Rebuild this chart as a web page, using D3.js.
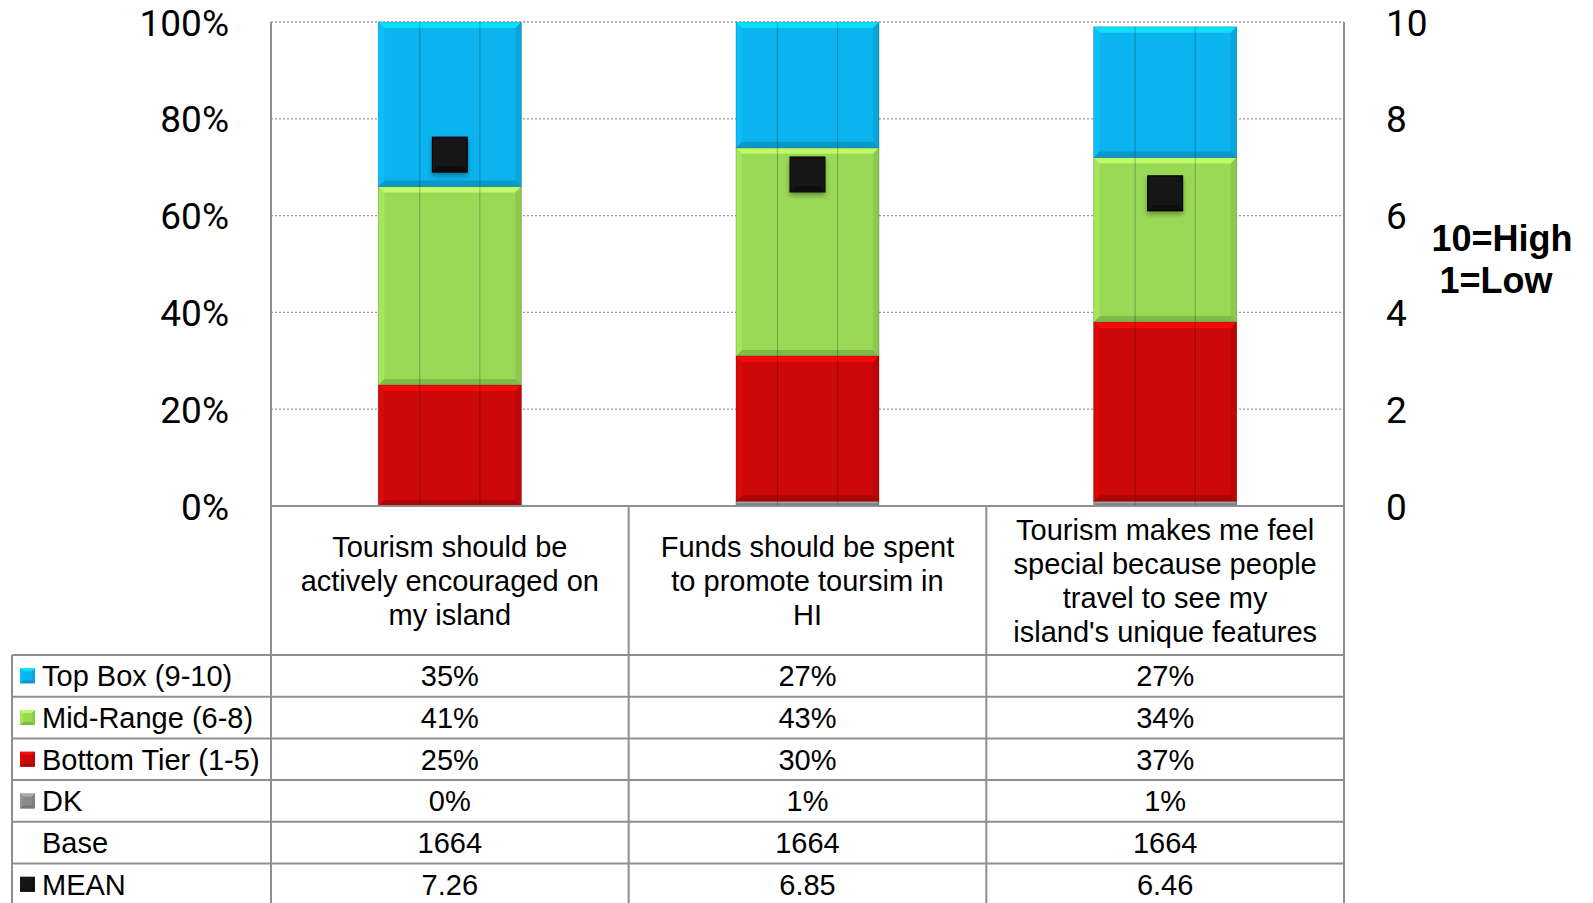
<!DOCTYPE html>
<html>
<head>
<meta charset="utf-8">
<script src="https://cdn.jsdelivr.net/npm/d3@7"></script>
<style>
  html, body { margin: 0; padding: 0; background: #fff; }
  svg { display: block; }
</style>
</head>
<body>
<svg id="chart" width="1593" height="903"></svg>
<script>
// ---------------- DATA ----------------
const categories = [
  "Tourism should be actively encouraged on my island",
  "Funds should be spent to promote toursim in HI",
  "Tourism makes me feel special because people travel to see my island's unique features"
];
const categoryLines = [
  ["Tourism should be", "actively encouraged on", "my island"],
  ["Funds should be spent", "to promote toursim in", "HI"],
  ["Tourism makes me feel", "special because people", "travel to see my", "island's unique features"]
];
const dkValues = [0, 1, 1];
const bottomTierValues = [25, 30, 37];
const midRangeValues = [41, 43, 34];
const topBoxValues = [35, 27, 27];
const baseValues = [1664, 1664, 1664];
const meanValues = [7.26, 6.85, 6.46];
const pctTicks = [0, 20, 40, 60, 80, 100];
const meanTicks = [0, 2, 4, 6, 8, 10];
const seriesNames = ["DK", "Bottom Tier (1-5)", "Mid-Range (6-8)", "Top Box (9-10)"];
const seriesColors = { "Top Box (9-10)": "#0BB4EE", "Mid-Range (6-8)": "#9AD956", "Bottom Tier (1-5)": "#CC0808", "DK": "#8A8A8A", "MEAN": "#141414" };
const tableRows = ["Top Box (9-10)", "Mid-Range (6-8)", "Bottom Tier (1-5)", "DK", "Base", "MEAN"];
const rightNote = ["10=High", "1=Low"];

// ---------------- LAYOUT ----------------
const svg = d3.select("#chart");
const plotLeft = 271, plotRight = 1344, plotTop = 22, plotBottom = 506;
const tableLeft = 12, tableTop = 655, rowH = 41.7;
const gridColor = "#8f8f8f";

const x = d3.scaleBand().domain(categories).range([plotLeft, plotRight]).padding(0);
const y = d3.scaleLinear().domain([0, 100]).range([plotBottom, plotTop]).clamp(true);
const y2 = d3.scaleLinear().domain([0, 10]).range([plotBottom, plotTop]);
const barW = x.bandwidth() * 0.4;

const defs = svg.append("defs");
const f = defs.append("filter").attr("id", "shadow").attr("x", "-30%").attr("y", "-30%").attr("width", "160%").attr("height", "170%");
f.append("feDropShadow").attr("dx", 0).attr("dy", 3).attr("stdDeviation", 2.5).attr("flood-color", "#000").attr("flood-opacity", 0.35);

// gridlines
svg.append("g").selectAll("line").data(pctTicks).join("line")
  .attr("x1", plotLeft).attr("x2", plotRight)
  .attr("y1", d => y(d)).attr("y2", d => y(d))
  .attr("stroke", "#9a9a9a").attr("stroke-width", 1.3).attr("stroke-dasharray", "2,2");

// plot borders
svg.append("line").attr("x1", plotLeft).attr("x2", plotLeft).attr("y1", plotTop).attr("y2", plotBottom).attr("stroke", gridColor).attr("stroke-width", 2);
svg.append("line").attr("x1", plotRight).attr("x2", plotRight).attr("y1", plotTop).attr("y2", plotBottom).attr("stroke", gridColor).attr("stroke-width", 2);

// bevelled rectangle helper
function bevelRect(g, x0, y0, w, h, color, bv) {
  const b = Math.min(bv, h / 3, w / 3);
  const c = d3.color(color);
  const g2 = g.append("g");
  g2.append("rect").attr("x", x0).attr("y", y0).attr("width", w).attr("height", h).attr("fill", color);
  if (b < 1) return g2;
  const light = c.brighter(0.7).formatHex();
  const lightS = c.brighter(0.25).formatHex();
  const dark = c.darker(0.6).formatHex();
  const darkS = c.darker(0.3).formatHex();
  const x1 = x0 + w, y1 = y0 + h;
  g2.append("polygon").attr("points", [[x0, y0], [x1, y0], [x1 - b, y0 + b], [x0 + b, y0 + b]].join(" ")).attr("fill", light).attr("opacity", 0.85);
  g2.append("polygon").attr("points", [[x0, y1], [x1, y1], [x1 - b, y1 - b], [x0 + b, y1 - b]].join(" ")).attr("fill", dark).attr("opacity", 0.8);
  g2.append("polygon").attr("points", [[x0, y0], [x0 + b, y0 + b], [x0 + b, y1 - b], [x0, y1]].join(" ")).attr("fill", lightS).attr("opacity", 0.7);
  g2.append("polygon").attr("points", [[x1, y0], [x1 - b, y0 + b], [x1 - b, y1 - b], [x1, y1]].join(" ")).attr("fill", darkS).attr("opacity", 0.8);
  return g2;
}

// stacked data
const rows = categories.map((c, i) => ({
  cat: c,
  "DK": dkValues[i],
  "Bottom Tier (1-5)": bottomTierValues[i],
  "Mid-Range (6-8)": midRangeValues[i],
  "Top Box (9-10)": topBoxValues[i]
}));
const stacked = d3.stack().keys(seriesNames)(rows);

const barsG = svg.append("g");
stacked.forEach(layer => {
  layer.forEach(seg => {
    const cat = seg.data.cat;
    const x0 = x(cat) + (x.bandwidth() - barW) / 2;
    const yTop = y(seg[1]), yBot = y(seg[0]);
    const h = yBot - yTop;
    if (h <= 0.1) return;
    const g = barsG.append("g");
    bevelRect(g, x0, yTop, barW, h, seriesColors[layer.key], 6);
    [0.29, 0.71].forEach(p => {
      g.append("line").attr("x1", x0 + barW * p).attr("x2", x0 + barW * p)
        .attr("y1", yTop).attr("y2", yBot).attr("stroke", "#000").attr("stroke-opacity", 0.22).attr("stroke-width", 1.2);
    });
    g.append("rect").attr("x", x0).attr("y", yTop).attr("width", barW).attr("height", h)
      .attr("fill", "none").attr("stroke", "#000").attr("stroke-opacity", 0.18).attr("stroke-width", 1);
  });
});

// mean markers
const mk = 35;
const meanG = svg.append("g");
categories.forEach((c, i) => {
  const cx = x(c) + x.bandwidth() / 2, cy = y2(meanValues[i]);
  const g = meanG.append("g").attr("filter", "url(#shadow)");
  bevelRect(g, cx - mk / 2, cy - mk / 2, mk, mk, seriesColors["MEAN"], 6);
  g.append("rect").attr("x", cx - mk / 2).attr("y", cy - mk / 2).attr("width", mk).attr("height", mk)
    .attr("fill", "none").attr("stroke", "#000").attr("stroke-width", 1);
});

// axes
const axisFont = "Roboto, 'Liberation Sans', sans-serif";
const leftAxis = d3.axisLeft(y).tickValues(pctTicks).tickFormat(d => d + "%").tickSize(0).tickPadding(42);
const la = svg.append("g").attr("transform", `translate(${plotLeft},0)`).call(leftAxis);
la.select(".domain").remove();
la.selectAll("text").attr("font-family", axisFont).attr("font-size", 37).attr("fill", "#000").attr("dy", "13px");

const rightAxis = d3.axisRight(y2).tickValues(meanTicks).tickFormat(d3.format("d")).tickSize(0).tickPadding(42);
const ra = svg.append("g").attr("transform", `translate(${plotRight},0)`).call(rightAxis);
ra.select(".domain").remove();
ra.selectAll("text").attr("font-family", axisFont).attr("font-size", 37).attr("fill", "#000").attr("dy", "13px");

// right note
svg.append("g").selectAll("text").data(rightNote).join("text")
  .attr("x", (d, i) => i === 0 ? 1502 : 1496).attr("y", (d, i) => 251 + i * 42)
  .attr("text-anchor", "middle").attr("font-family", "'Liberation Sans', Arial, sans-serif")
  .attr("font-weight", "bold").attr("font-size", 36).attr("fill", "#000").text(d => d);

// ---------------- TABLE ----------------
const tbl = svg.append("g");
const tableBottom = tableTop + rowH * tableRows.length;
const tableFont = "'Liberation Sans', Arial, sans-serif";
const colEdges = [plotLeft].concat(categories.map(c => x(c) + x.bandwidth()));
tbl.selectAll("line.col").data(colEdges).join("line").attr("class", "col")
  .attr("x1", d => d).attr("x2", d => d).attr("y1", plotBottom).attr("y2", tableBottom)
  .attr("stroke", gridColor).attr("stroke-width", 2);
tbl.append("line").attr("x1", tableLeft).attr("x2", tableLeft).attr("y1", tableTop).attr("y2", tableBottom).attr("stroke", gridColor).attr("stroke-width", 2);
tbl.append("line").attr("x1", plotLeft).attr("x2", plotRight).attr("y1", plotBottom).attr("y2", plotBottom).attr("stroke", gridColor).attr("stroke-width", 2);
tbl.selectAll("line.row").data(d3.range(tableRows.length + 1)).join("line").attr("class", "row")
  .attr("x1", tableLeft).attr("x2", plotRight)
  .attr("y1", i => tableTop + i * rowH).attr("y2", i => tableTop + i * rowH)
  .attr("stroke", gridColor).attr("stroke-width", 2);

// category labels
const lineH = 34;
categories.forEach((c, i) => {
  const lines = categoryLines[i];
  const cx = x(c) + x.bandwidth() / 2;
  const cyMid = (plotBottom + tableTop) / 2;
  const t = tbl.append("text").attr("text-anchor", "middle").attr("font-family", tableFont).attr("font-size", 29).attr("fill", "#000");
  lines.forEach((ln, j) => {
    t.append("tspan").attr("x", cx).attr("y", cyMid + (j - (lines.length - 1) / 2) * lineH).attr("dy", "0.35em").text(ln);
  });
});

// row labels + markers
tableRows.forEach((r, ri) => {
  const cy = tableTop + ri * rowH + rowH / 2;
  if (seriesColors[r]) {
    const g = tbl.append("g");
    bevelRect(g, 20, cy - 7.5, 15, 15, seriesColors[r], 3);
  }
  tbl.append("text").attr("x", 42).attr("y", cy).attr("dy", "0.36em")
    .attr("font-family", tableFont).attr("font-size", 29).attr("fill", "#000").text(r);
});

// row values
const rowData = {
  "Top Box (9-10)": topBoxValues.map(v => v + "%"),
  "Mid-Range (6-8)": midRangeValues.map(v => v + "%"),
  "Bottom Tier (1-5)": bottomTierValues.map(v => v + "%"),
  "DK": dkValues.map(v => v + "%"),
  "Base": baseValues.map(v => String(v)),
  "MEAN": meanValues.map(v => v.toFixed(2))
};
tableRows.forEach((r, ri) => {
  const cy = tableTop + ri * rowH + rowH / 2;
  categories.forEach((c, ci) => {
    tbl.append("text").attr("x", x(c) + x.bandwidth() / 2).attr("y", cy).attr("dy", "0.36em")
      .attr("text-anchor", "middle").attr("font-family", tableFont).attr("font-size", 29).attr("fill", "#000")
      .text(rowData[r][ci]);
  });
});
</script>
</body>
</html>
